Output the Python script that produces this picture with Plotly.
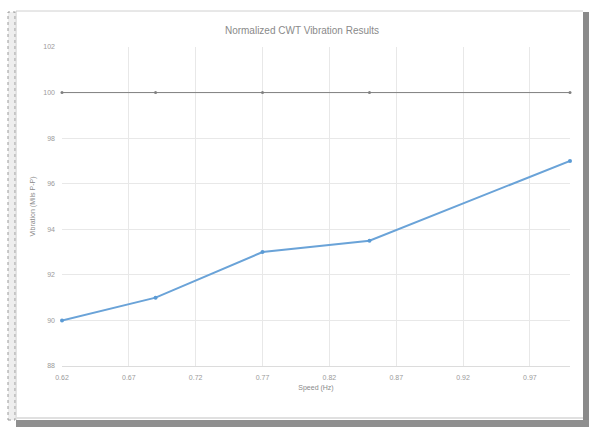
import plotly.graph_objects as go

# Measured data
speed_hz = [0.62, 0.69, 0.77, 0.85, 1.00]
vibration = [90.0, 91.0, 93.0, 93.5, 97.0]
reference_level = [100, 100, 100, 100, 100]

x_ticks = [0.62, 0.67, 0.72, 0.77, 0.82, 0.87, 0.92, 0.97]
y_ticks = [88, 90, 92, 94, 96, 98, 100, 102]

W, H = 589, 427


def px(x):
    return x / W


def py(y):
    return 1 - y / H


fig = go.Figure()

fig.add_trace(go.Scatter(
    x=speed_hz, y=reference_level, mode="lines+markers", name="Reference",
    line=dict(color="#808080", width=1),
    marker=dict(color="#808080", size=3),
    cliponaxis=False,
))
fig.add_trace(go.Scatter(
    x=speed_hz, y=vibration, mode="lines+markers", name="Vibration",
    line=dict(color="#6aa3d8", width=2),
    marker=dict(color="#5b9bd5", size=4),
    cliponaxis=False,
))

tick_font = dict(family="Liberation Sans, Arial", size=7, color="#9a9a9a")
label_font = dict(family="Liberation Sans, Arial", size=7, color="#8a8a8a")

fig.update_layout(
    width=W, height=H,
    margin=dict(l=0, r=0, t=0, b=0),
    paper_bgcolor="white",
    plot_bgcolor="white",
    showlegend=False,
    title=dict(
        text="Normalized CWT Vibration Results",
        x=px(302), xanchor="center", y=py(30), yanchor="middle",
        font=dict(family="Liberation Sans, Arial", size=10, color="#8a8a8a"),
    ),
    xaxis=dict(
        domain=[px(62), px(570)],
        range=[0.62, 1.0],
        tickvals=x_ticks,
        ticktext=[f"{v:.2f}" for v in x_ticks],
        showgrid=True, gridcolor="#e8e8e8", gridwidth=1,
        zeroline=False, showline=True, linecolor="#dcdcdc",
        ticks="", tickfont=tick_font, ticklabelstandoff=5,
        automargin=False,
        title=dict(text="Speed (Hz)", font=label_font, standoff=4),
    ),
    yaxis=dict(
        domain=[py(366), py(47)],
        range=[88, 102],
        tickvals=y_ticks,
        showgrid=True, gridcolor="#e8e8e8", gridwidth=1,
        zeroline=False, showline=False,
        ticks="", tickfont=tick_font, ticklabelstandoff=6,
        automargin=False,
        title=dict(text="Vibration (Mils P-P)", font=label_font, standoff=6),
    ),
)

shapes = [
    # dotted strip on the left edge
    dict(type="rect", xref="paper", yref="paper",
         x0=px(8), x1=px(15), y0=py(420), y1=py(12),
         fillcolor="#eeeeee", line=dict(color="#9a9a9a", width=1, dash="dot")),
    # chart frame
    dict(type="line", xref="paper", yref="paper",
         x0=px(16), x1=px(583), y0=py(11), y1=py(11),
         line=dict(color="#d0d0d0", width=1)),
    dict(type="line", xref="paper", yref="paper",
         x0=px(16), x1=px(16), y0=py(11), y1=py(420),
         line=dict(color="#c8c8c8", width=1)),
    # right and bottom shadow edges
    dict(type="rect", xref="paper", yref="paper",
         x0=px(583), x1=px(589), y0=py(427), y1=py(12),
         fillcolor="#8a8a8a", line=dict(width=0)),
    dict(type="rect", xref="paper", yref="paper",
         x0=px(16), x1=px(589), y0=py(427), y1=py(420),
         fillcolor="#8f8f8f", line=dict(width=0)),
    dict(type="line", xref="paper", yref="paper",
         x0=px(16), x1=px(583), y0=py(418), y1=py(418),
         line=dict(color="#e0e0e0", width=2)),
]
fig.update_layout(shapes=shapes)

fig.write_html("out.html")
